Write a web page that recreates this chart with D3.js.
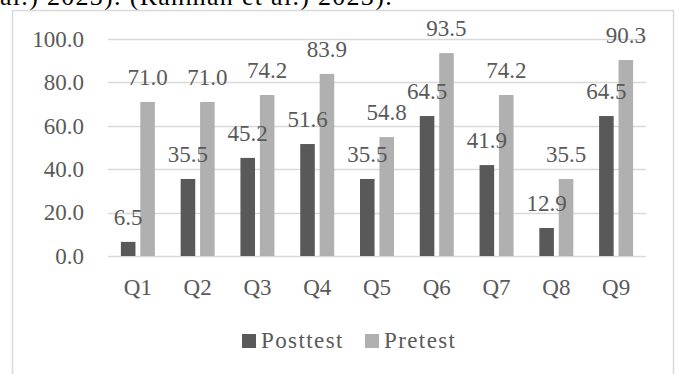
<!DOCTYPE html>
<html><head><meta charset="utf-8">
<script src="https://cdn.jsdelivr.net/npm/d3@7"></script>
<style>body{margin:0;background:#fff;overflow:hidden} text{font-family:"Liberation Serif",serif;}</style>
</head><body>
<script>
const categories = ["Q1","Q2","Q3","Q4","Q5","Q6","Q7","Q8","Q9"];
const posttest = [6.5,35.5,45.2,51.6,35.5,64.5,41.9,12.9,64.5];
const pretest = [71.0,71.0,74.2,83.9,54.8,93.5,74.2,35.5,90.3];
const seriesNames = ["Posttest","Pretest"];
const yTicks = [0,20,40,60,80,100];
const headerText = "al.) 2023). (Rahman et al.) 2023).";

const W = 681, H = 374;
const fs = 23;
const textColor = "#595959";
const colors = ["#595959", "#b0b0b0"];

const svg = d3.select("body").append("svg").attr("width", W).attr("height", H);

svg.append("text").attr("x", 0).attr("y", 4.5)
  .style("font-size", "26px").style("letter-spacing", "1.3px").attr("fill", "#000").text(headerText);

svg.append("rect").attr("x", 12.5).attr("y", 10.5).attr("width", 661).attr("height", 380)
  .attr("fill", "none").attr("stroke", "#d9d9d9").attr("stroke-width", 1.5);

const x = d3.scaleBand().domain(categories).range([108, 646]);
const y = d3.scaleLinear().domain([0, 100]).range([256, 39]);

const g = svg.append("g");
g.selectAll("line.grid").data(yTicks).join("line")
  .attr("x1", 108).attr("x2", 646)
  .attr("y1", d => Math.round(y(d)) + 0.5).attr("y2", d => Math.round(y(d)) + 0.5)
  .attr("stroke", "#d9d9d9").attr("stroke-width", 1.5);

g.selectAll("text.yl").data(yTicks).join("text")
  .attr("x", 84).attr("y", d => y(d)).attr("dy", "0.34em")
  .attr("text-anchor", "end").style("font-size", fs + "px")
  .attr("fill", textColor).text(d => d.toFixed(1));

const inner = d3.scaleBand().domain([0, 1]).range([-17, 17]).paddingInner(0.25).paddingOuter(0);
const series = [posttest, pretest];
series.forEach((vals, si) => {
  g.selectAll("rect.s" + si).data(categories).join("rect")
    .attr("class", "s" + si)
    .attr("x", (c) => x(c) + x.bandwidth() / 2 + inner(si))
    .attr("width", inner.bandwidth())
    .attr("y", (c, i) => y(vals[i]))
    .attr("height", (c, i) => y(0) - y(vals[i]))
    .attr("fill", colors[si]);
});
series.forEach((vals, si) => {
  g.selectAll("text.v" + si).data(categories).join("text")
    .attr("class", "v" + si)
    .attr("x", (c) => x(c) + x.bandwidth() / 2 + inner(si) + inner.bandwidth() / 2)
    .attr("y", (c, i) => y(vals[i]) - 17)
    .attr("text-anchor", "middle").style("font-size", fs + "px")
    .attr("fill", textColor).text((c, i) => vals[i].toFixed(1));
});

g.selectAll("text.xl").data(categories).join("text")
  .attr("x", c => x(c) + x.bandwidth() / 2).attr("y", 295)
  .attr("text-anchor", "middle").style("font-size", fs + "px")
  .attr("fill", textColor).text(c => c);

// legend
const legX = [242, 365];
seriesNames.forEach((n, i) => {
  svg.append("rect").attr("x", legX[i]).attr("y", 334).attr("width", 14).attr("height", 14).attr("fill", colors[i]);
  svg.append("text").attr("x", legX[i] + 19).attr("y", 348)
    .style("font-size", fs + "px").style("letter-spacing", "1.4px").attr("fill", textColor).text(n);
});
</script>
</body></html>
